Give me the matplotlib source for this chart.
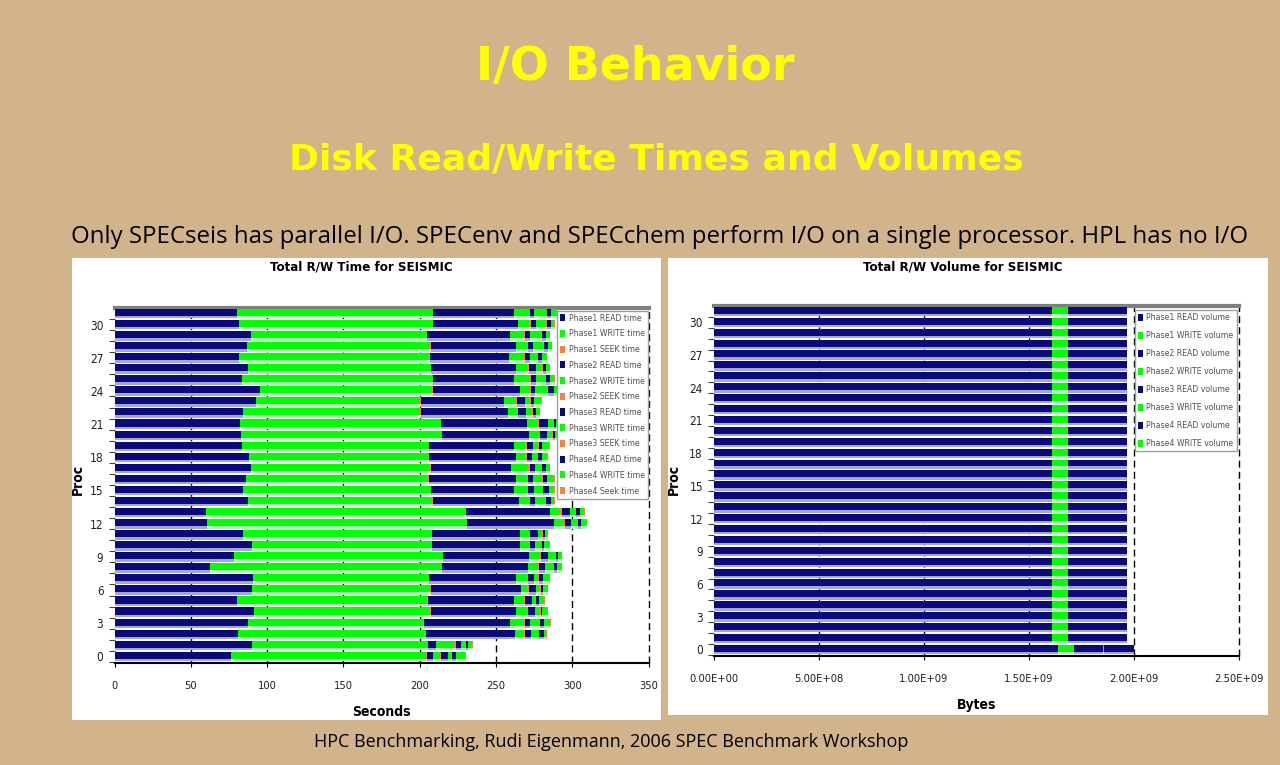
import numpy as np
import matplotlib
matplotlib.use('Agg')
import matplotlib.pyplot as plt
from matplotlib.patches import Rectangle

# --- dane ---
procs = list(range(32))

# czasy [s] dla kazdego procesora 0..31
p1_read = [76.3, 90.1, 81.1, 87.7, 91.6, 80.0, 89.9, 90.5, 62.6, 78.3, 90.1, 84.4, 60.8, 60.0, 87.7, 84.4,
           86.1, 89.2, 88.3, 83.3, 82.7, 82.5, 84.4, 92.5, 95.3, 83.5, 87.2, 81.3, 86.6, 89.4, 81.3, 80.0]
p1_write = [127.8, 114.9, 122.3, 114.6, 115.1, 125.0, 116.8, 115.5, 151.7, 136.7, 117.7, 123.4, 169.9, 170.0, 120.5, 122.7,
            119.5, 117.5, 117.7, 122.7, 131.6, 131.2, 116.0, 107.9, 112.9, 124.9, 120.1, 124.9, 120.1, 115.3, 127.1, 128.4]
p1_seek = [0.3, 0.3, 0.4, 0.3, 0.3, 0.3, 0.4, 0.3, 0.3, 0.3, 0.3, 0.4, 0.3, 0.3, 0.3, 0.3,
           0.3, 0.4, 0.3, 0.3, 0.3, 0.3, 0.3, 0.3, 0.4, 0.3, 0.3, 0.3, 0.3, 0.3, 0.3, 0.3]
p2_read = [4.1, 5.4, 58.3, 56.8, 56.3, 56.3, 58.9, 57.0, 56.4, 56.5, 57.8, 57.4, 57.2, 54.9, 56.8, 54.6,
           56.8, 52.4, 57.0, 55.3, 56.8, 55.9, 57.2, 54.3, 56.8, 53.3, 55.1, 51.8, 55.7, 54.2, 55.9, 53.3]
p2_write = [5.0, 12.0, 6.1, 8.7, 7.0, 6.5, 4.4, 6.6, 6.3, 6.8, 5.5, 5.9, 6.1, 6.9, 6.1, 8.3,
            7.6, 11.6, 5.9, 7.6, 6.6, 7.6, 5.9, 7.7, 6.8, 10.1, 7.6, 9.8, 7.6, 8.9, 7.2, 9.4]
p2_seek = [0.6, 0.7, 0.9, 0.8, 0.8, 0.9, 0.8, 0.8, 0.9, 0.8, 0.8, 0.9, 0.8, 0.8, 0.9, 0.8,
           0.8, 0.9, 0.8, 0.8, 0.9, 0.8, 0.8, 0.9, 0.8, 0.8, 0.9, 0.8, 0.8, 0.9, 0.8, 0.8]
p3_read = [4.4, 3.9, 3.7, 3.3, 4.4, 4.4, 4.8, 4.4, 4.0, 4.8, 3.3, 5.0, 4.0, 5.5, 3.3, 3.7,
           3.3, 3.7, 3.3, 4.4, 4.3, 5.9, 4.8, 5.0, 2.2, 3.0, 5.0, 3.3, 3.3, 2.9, 3.5, 2.9]
p3_write = [2.2, 2.2, 5.1, 5.9, 3.3, 2.2, 2.9, 2.6, 5.4, 4.4, 4.3, 2.6, 3.7, 3.3, 6.5, 5.7,
            5.9, 3.9, 3.9, 3.3, 3.3, 3.3, 3.9, 3.7, 8.0, 6.1, 3.8, 4.4, 6.5, 7.6, 6.6, 8.0]
p3_seek = [0.5, 0.5, 0.5, 0.6, 0.5, 0.5, 0.5, 0.6, 0.5, 0.5, 0.5, 0.5, 0.6, 0.5, 0.5, 0.5,
           0.5, 0.6, 0.5, 0.5, 0.5, 0.5, 0.6, 0.5, 0.5, 0.5, 0.5, 0.6, 0.5, 0.5, 0.5, 0.5]
p4_read = [2.2, 1.8, 3.2, 2.8, 1.0, 1.7, 1.0, 2.1, 1.5, 1.1, 1.1, 1.3, 2.2, 2.6, 3.3, 3.7,
           2.4, 2.2, 2.6, 1.7, 1.7, 1.5, 2.2, 2.2, 4.0, 2.9, 2.2, 2.8, 2.7, 2.9, 2.6, 2.2]
p4_write = [6.5, 2.6, 1.1, 4.0, 3.3, 3.7, 3.3, 4.9, 3.5, 2.8, 3.8, 2.0, 3.7, 2.8, 2.2, 3.3,
            4.8, 2.6, 3.3, 4.8, 3.0, 2.1, 2.6, 4.6, 2.0, 2.8, 2.6, 3.3, 2.4, 2.4, 2.2, 4.4]
p4_seek = [0.3, 0.3, 0.3, 0.3, 0.3, 0.3, 0.3, 0.3, 0.3, 0.3, 0.3, 0.3, 0.3, 0.3, 0.3, 0.3,
           0.3, 0.3, 0.3, 0.3, 0.3, 0.3, 0.3, 0.3, 0.3, 0.3, 0.3, 0.3, 0.3, 0.3, 0.3, 0.3]

# wolumeny [GB] (proc 0, potem procesory 1..31 - wszystkie prawie takie same)
v1_read = [1.64] + [1.61] * 31
v1_write = [0.076] + [0.075] * 31
v2_read = [0.137] + [0.138] * 31
v2_write = [0.002] + [0.002] * 31
v3_read = [0.081] + [0.078] * 31
v3_write = [0.002] + [0.002] * 31
v4_read = [0.060] + [0.060] * 31
v4_write = [0.002] + [0.002] * 31

time_labels = ['Phase1 READ time', 'Phase1 WRITE time', 'Phase1 SEEK time',
               'Phase2 READ time', 'Phase2 WRITE time', 'Phase2 SEEK time',
               'Phase3 READ time', 'Phase3 WRITE time', 'Phase3 SEEK time',
               'Phase4 READ time', 'Phase4 WRITE time', 'Phase4 Seek time']
vol_labels = ['Phase1 READ volume', 'Phase1 WRITE volume', 'Phase2 READ volume', 'Phase2 WRITE volume',
              'Phase3 READ volume', 'Phase3 WRITE volume', 'Phase4 READ volume', 'Phase4 WRITE volume']
vol_ticks = ['0.00E+00', '5.00E+08', '1.00E+09', '1.50E+09', '2.00E+09', '2.50E+09']

# --- kolory ---
NAVY = '#0a0a78'
GREEN = '#00ff00'
ORANGE = '#ff7f3f'
SHADE = {NAVY: '#a4a4dc', GREEN: '#b8f5b8', ORANGE: '#ffc8a8'}
BG = '#d2b48c'
NARROW = ['Liberation Sans Narrow', 'DejaVu Sans']


def stacked(ax, series, colors, labels, scale=1.0):
    y = np.array(procs)
    left = np.zeros(len(procs))
    handles = []
    for vals, col, lab in zip(series, colors, labels):
        v = np.array(vals) * scale
        # pasek cienia pod slupkiem (efekt 3D z Excela)
        ax.barh(y - 0.33, v, left=left, height=0.22, color=SHADE[col], linewidth=0, zorder=2)
        h = ax.barh(y + 0.1, v, left=left, height=0.64, color=col, linewidth=0, zorder=3, label=lab)
        handles.append(h)
        left += v
    return handles


def style_axes(ax, xmax, step):
    ax.set_facecolor('white')
    ax.set_ylim(-0.6, 31.5)
    ax.set_xlim(0, xmax)
    ax.set_yticks(range(0, 31, 3))
    ax.set_yticks(np.arange(-0.5, 31.5, 1), minor=True)
    ax.tick_params(axis='y', which='major', length=0, pad=8, labelsize=8.5)
    ax.tick_params(axis='y', which='minor', length=4, width=0.8, color='#404040')
    ax.tick_params(axis='x', length=3, labelsize=8, pad=10)
    for lab in ax.get_xticklabels() + ax.get_yticklabels():
        lab.set_family(NARROW)
        lab.set_stretch('condensed')
        lab.set_color('#202020')
    for x in np.arange(step, xmax + step / 2, step):
        ax.axvline(x, color='black', linestyle=(0, (5, 3)), linewidth=1.0, zorder=1, clip_on=False)
    ax.spines['left'].set_visible(False)
    ax.spines['right'].set_visible(False)
    ax.spines['top'].set_color('#7f7f7f')
    ax.spines['top'].set_linewidth(3)
    ax.spines['bottom'].set_linewidth(1.5)


def legend(ax, handles, anchor, spacing):
    leg = ax.legend(handles=handles, loc='upper right', bbox_to_anchor=anchor,
                    prop={'family': NARROW, 'size': 6.2, 'stretch': 'condensed'},
                    frameon=True, fancybox=False, framealpha=1,
                    edgecolor='#a0a0a0', handlelength=0.6, handleheight=0.9, handletextpad=0.4,
                    labelspacing=spacing, borderpad=0.35, borderaxespad=0.1)
    leg.set_zorder(10)
    for t in leg.get_texts():
        t.set_color('#505050')
    return leg


fig = plt.figure(figsize=(12.8, 7.65), dpi=100, facecolor=BG)

# biale panele pod wykresami
fig.patches.append(Rectangle((72 / 1280, 1 - 720 / 765), 589 / 1280, 462 / 765,
                             transform=fig.transFigure, facecolor='white', edgecolor='none', zorder=-5))
fig.patches.append(Rectangle((668 / 1280, 1 - 715 / 765), 600 / 1280, 457 / 765,
                             transform=fig.transFigure, facecolor='white', edgecolor='none', zorder=-5))

# --- napisy slajdu ---
fig.text(0.496, 0.912, 'I/O Behavior', ha='center', va='center', color='#ffff00',
         fontsize=33, fontweight='bold', family='DejaVu Sans')
fig.text(0.513, 0.791, 'Disk Read/Write Times and Volumes', ha='center', va='center', color='#ffff00',
         fontsize=26, fontweight='bold', family='DejaVu Sans')
fig.text(0.5156, 0.690, 'Only SPECseis has parallel I/O. SPECenv and SPECchem perform I/O on a single processor. HPL has no I/O',
         ha='center', va='center', color='black', fontsize=17.3, family='Open Sans')
fig.text(0.4777, 0.030, 'HPC Benchmarking, Rudi Eigenmann, 2006 SPEC Benchmark Workshop',
         ha='center', va='center', color='black', fontsize=13, family='Open Sans')

# --- lewy wykres: czasy ---
ax1 = fig.add_axes([114.5 / 1280, 1 - 663 / 765, 534.3 / 1280, 355 / 765])
ax1.set_zorder(2)
time_series = [p1_read, p1_write, p1_seek, p2_read, p2_write, p2_seek,
               p3_read, p3_write, p3_seek, p4_read, p4_write, p4_seek]
time_colors = [NAVY, GREEN, ORANGE] * 4
h1 = stacked(ax1, time_series, time_colors, time_labels)
ax1.set_xticks(range(0, 351, 50))
style_axes(ax1, 350, 50)
legend(ax1, h1, (1.0, 0.995), 0.78)

fig.text(0.282, 0.651, 'Total R/W Time for SEISMIC', ha='center', va='center',
         fontsize=9.5, fontweight='bold', family=NARROW, stretch='condensed')
fig.text(0.061, 0.373, 'Proc', ha='center', va='center', rotation=90,
         fontsize=10, fontweight='bold', family=NARROW, stretch='condensed')
fig.text(0.298, 0.069, 'Seconds', ha='center', va='center',
         fontsize=10, fontweight='bold', family=NARROW, stretch='condensed')

# --- prawy wykres: wolumeny ---
ax2 = fig.add_axes([714 / 1280, 1 - 656 / 765, 525 / 1280, 350 / 765])
ax2.set_zorder(2)
vol_series = [v1_read, v1_write, v2_read, v2_write, v3_read, v3_write, v4_read, v4_write]
vol_colors = [NAVY, GREEN] * 4
h2 = stacked(ax2, vol_series, vol_colors, vol_labels, scale=1e9)
ax2.set_xticks(np.arange(0, 2.51e9, 0.5e9))
ax2.set_xticklabels(vol_ticks)
style_axes(ax2, 2.5e9, 0.5e9)
legend(ax2, h2, (0.997, 0.99), 1.04)

fig.text(0.752, 0.651, 'Total R/W Volume for SEISMIC', ha='center', va='center',
         fontsize=9.5, fontweight='bold', family=NARROW, stretch='condensed')
fig.text(0.5266, 0.373, 'Proc', ha='center', va='center', rotation=90,
         fontsize=10, fontweight='bold', family=NARROW, stretch='condensed')
fig.text(0.763, 0.078, 'Bytes', ha='center', va='center',
         fontsize=10, fontweight='bold', family=NARROW, stretch='condensed')

fig.savefig('out.png', dpi=100, facecolor=BG)
